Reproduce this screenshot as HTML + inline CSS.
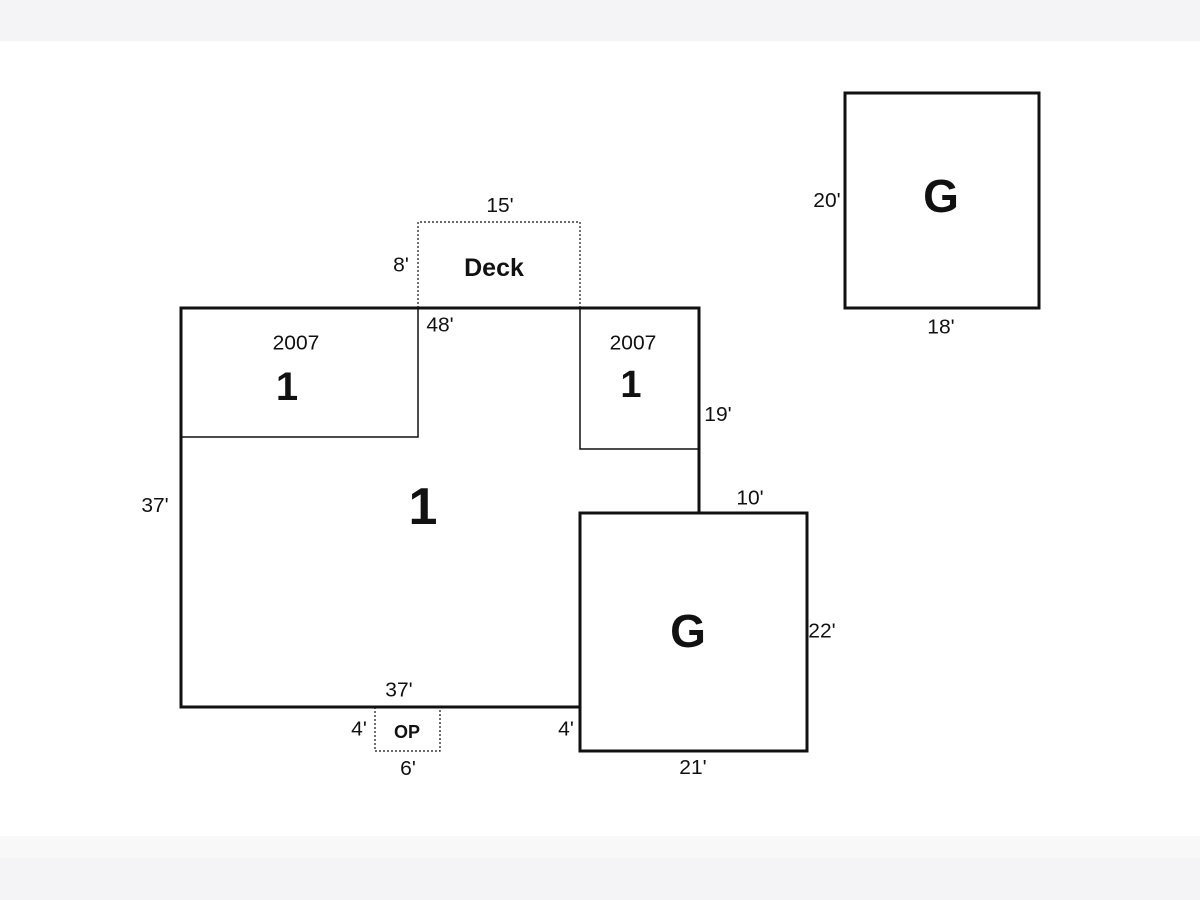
<!DOCTYPE html>
<html><head><style>
html,body{margin:0;padding:0;background:#fff;}
body{width:1200px;height:900px;position:relative;overflow:hidden;font-family:"Liberation Sans",Arial,sans-serif;}
.top{position:absolute;left:0;top:0;width:1200px;height:41px;background:#f4f4f6;}
.b1{position:absolute;left:0;top:836px;width:1200px;height:22px;background:#f8f8f9;}
.b2{position:absolute;left:0;top:858px;width:1200px;height:42px;background:#f4f4f6;}
</style></head><body>
<div class="top"></div><div class="b1"></div><div class="b2"></div>
<svg width="1200" height="900" style="position:absolute;left:0;top:0" font-family="Liberation Sans, Arial, sans-serif" fill="#111">
<g fill="none" stroke="#111">
<rect x="181" y="308" width="518" height="399" stroke-width="3"/>
<polyline points="181,437 418,437 418,308" stroke-width="1.5"/>
<polyline points="580,308 580,449 699,449" stroke-width="1.5"/>
<polyline points="418,308 418,222 580,222 580,308" stroke-width="1.2" stroke-dasharray="2,2"/>
<rect x="375" y="707" width="65" height="44" stroke-width="1.2" stroke-dasharray="2,2"/>
<rect x="580" y="513" width="227" height="238" stroke-width="3" fill="#fff"/>
<rect x="845" y="93" width="194" height="215" stroke-width="3"/>
</g>
<g font-size="21" text-anchor="middle" transform="scale(1,0.95)">
<text x="500" y="223">15'</text>
<text x="401" y="286">8'</text>
<text x="440" y="349">48'</text>
<text x="296" y="368">2007</text>
<text x="633" y="368">2007</text>
<text x="718" y="443">19'</text>
<text x="155" y="539">37'</text>
<text x="750" y="531">10'</text>
<text x="822" y="671">22'</text>
<text x="399" y="733">37'</text>
<text x="359" y="774">4'</text>
<text x="566" y="774">4'</text>
<text x="408" y="816">6'</text>
<text x="693" y="815">21'</text>
<text x="827" y="218">20'</text>
<text x="941" y="351">18'</text>
</g>
<g font-weight="bold" text-anchor="middle">
<text x="494" y="276" font-size="25">Deck</text>
<text x="407" y="738" font-size="18">OP</text>
<text x="287" y="400" font-size="40">1</text>
<text x="631" y="397" font-size="38">1</text>
<text x="423" y="524" font-size="52">1</text>
<text x="688" y="647" font-size="46">G</text>
<text x="941" y="212" font-size="46">G</text>
</g>
</svg>
</body></html>
